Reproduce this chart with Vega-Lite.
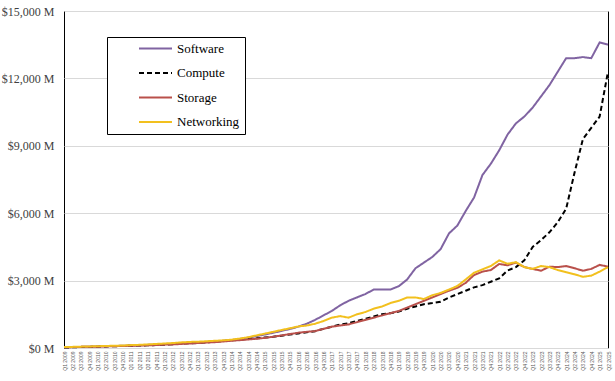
{
 "$schema": "https://vega.github.io/schema/vega-lite/v6.json",
 "width": 544, "height": 337,
 "autosize": "none",
 "padding": {"left": 64, "top": 11, "right": 7, "bottom": 33},
 "background": "white",
 "config": {
  "view": {"stroke": "#000000", "strokeWidth": 1},
  "font": "Liberation Serif",
  "legend": {"orient": "none", "legendX": 43, "legendY": 26, "strokeColor": "#000000", "fillColor": "white", "padding": 5, "symbolType": "M-3,0H3", "symbolSize": 121, "symbolStrokeWidth": 2, "labelFontSize": 13, "labelColor": "#000000", "labelFont": "Liberation Serif", "rowPadding": 10.5, "symbolOffset": 37, "labelOffset": 15}
 },
 "data": {"values": [
{"quarter":"Q1 2009","segment":"Software","value":30},{"quarter":"Q2 2009","segment":"Software","value":40},{"quarter":"Q3 2009","segment":"Software","value":50},{"quarter":"Q4 2009","segment":"Software","value":60},
{"quarter":"Q1 2010","segment":"Software","value":70},{"quarter":"Q2 2010","segment":"Software","value":80},{"quarter":"Q3 2010","segment":"Software","value":90},{"quarter":"Q4 2010","segment":"Software","value":100},
{"quarter":"Q1 2011","segment":"Software","value":110},{"quarter":"Q2 2011","segment":"Software","value":120},{"quarter":"Q3 2011","segment":"Software","value":140},{"quarter":"Q4 2011","segment":"Software","value":150},
{"quarter":"Q1 2012","segment":"Software","value":170},{"quarter":"Q2 2012","segment":"Software","value":190},{"quarter":"Q3 2012","segment":"Software","value":210},{"quarter":"Q4 2012","segment":"Software","value":230},
{"quarter":"Q1 2013","segment":"Software","value":250},{"quarter":"Q2 2013","segment":"Software","value":270},{"quarter":"Q3 2013","segment":"Software","value":290},{"quarter":"Q4 2013","segment":"Software","value":320},
{"quarter":"Q1 2014","segment":"Software","value":350},{"quarter":"Q2 2014","segment":"Software","value":400},{"quarter":"Q3 2014","segment":"Software","value":460},{"quarter":"Q4 2014","segment":"Software","value":530},
{"quarter":"Q1 2015","segment":"Software","value":600},{"quarter":"Q2 2015","segment":"Software","value":680},{"quarter":"Q3 2015","segment":"Software","value":760},{"quarter":"Q4 2015","segment":"Software","value":850},
{"quarter":"Q1 2016","segment":"Software","value":950},{"quarter":"Q2 2016","segment":"Software","value":1080},{"quarter":"Q3 2016","segment":"Software","value":1250},{"quarter":"Q4 2016","segment":"Software","value":1450},
{"quarter":"Q1 2017","segment":"Software","value":1650},{"quarter":"Q2 2017","segment":"Software","value":1900},{"quarter":"Q3 2017","segment":"Software","value":2100},{"quarter":"Q4 2017","segment":"Software","value":2250},
{"quarter":"Q1 2018","segment":"Software","value":2400},{"quarter":"Q2 2018","segment":"Software","value":2600},{"quarter":"Q3 2018","segment":"Software","value":2600},{"quarter":"Q4 2018","segment":"Software","value":2600},
{"quarter":"Q1 2019","segment":"Software","value":2750},{"quarter":"Q2 2019","segment":"Software","value":3050},{"quarter":"Q3 2019","segment":"Software","value":3550},{"quarter":"Q4 2019","segment":"Software","value":3800},
{"quarter":"Q1 2020","segment":"Software","value":4050},{"quarter":"Q2 2020","segment":"Software","value":4400},{"quarter":"Q3 2020","segment":"Software","value":5100},{"quarter":"Q4 2020","segment":"Software","value":5450},
{"quarter":"Q1 2021","segment":"Software","value":6100},{"quarter":"Q2 2021","segment":"Software","value":6700},{"quarter":"Q3 2021","segment":"Software","value":7700},{"quarter":"Q4 2021","segment":"Software","value":8200},
{"quarter":"Q1 2022","segment":"Software","value":8800},{"quarter":"Q2 2022","segment":"Software","value":9500},{"quarter":"Q3 2022","segment":"Software","value":10000},{"quarter":"Q4 2022","segment":"Software","value":10300},
{"quarter":"Q1 2023","segment":"Software","value":10700},{"quarter":"Q2 2023","segment":"Software","value":11200},{"quarter":"Q3 2023","segment":"Software","value":11700},{"quarter":"Q4 2023","segment":"Software","value":12300},
{"quarter":"Q1 2024","segment":"Software","value":12900},{"quarter":"Q2 2024","segment":"Software","value":12900},{"quarter":"Q3 2024","segment":"Software","value":12950},{"quarter":"Q4 2024","segment":"Software","value":12900},
{"quarter":"Q1 2025","segment":"Software","value":13600},{"quarter":"Q2 2025","segment":"Software","value":13500},

{"quarter":"Q1 2009","segment":"Compute","value":20},{"quarter":"Q2 2009","segment":"Compute","value":30},{"quarter":"Q3 2009","segment":"Compute","value":40},{"quarter":"Q4 2009","segment":"Compute","value":50},
{"quarter":"Q1 2010","segment":"Compute","value":60},{"quarter":"Q2 2010","segment":"Compute","value":70},{"quarter":"Q3 2010","segment":"Compute","value":80},{"quarter":"Q4 2010","segment":"Compute","value":90},
{"quarter":"Q1 2011","segment":"Compute","value":100},{"quarter":"Q2 2011","segment":"Compute","value":110},{"quarter":"Q3 2011","segment":"Compute","value":120},{"quarter":"Q4 2011","segment":"Compute","value":130},
{"quarter":"Q1 2012","segment":"Compute","value":150},{"quarter":"Q2 2012","segment":"Compute","value":170},{"quarter":"Q3 2012","segment":"Compute","value":190},{"quarter":"Q4 2012","segment":"Compute","value":210},
{"quarter":"Q1 2013","segment":"Compute","value":230},{"quarter":"Q2 2013","segment":"Compute","value":250},{"quarter":"Q3 2013","segment":"Compute","value":280},{"quarter":"Q4 2013","segment":"Compute","value":310},
{"quarter":"Q1 2014","segment":"Compute","value":340},{"quarter":"Q2 2014","segment":"Compute","value":370},{"quarter":"Q3 2014","segment":"Compute","value":400},{"quarter":"Q4 2014","segment":"Compute","value":430},
{"quarter":"Q1 2015","segment":"Compute","value":470},{"quarter":"Q2 2015","segment":"Compute","value":500},{"quarter":"Q3 2015","segment":"Compute","value":550},{"quarter":"Q4 2015","segment":"Compute","value":600},
{"quarter":"Q1 2016","segment":"Compute","value":650},{"quarter":"Q2 2016","segment":"Compute","value":700},{"quarter":"Q3 2016","segment":"Compute","value":750},{"quarter":"Q4 2016","segment":"Compute","value":850},
{"quarter":"Q1 2017","segment":"Compute","value":950},{"quarter":"Q2 2017","segment":"Compute","value":1050},{"quarter":"Q3 2017","segment":"Compute","value":1100},{"quarter":"Q4 2017","segment":"Compute","value":1200},
{"quarter":"Q1 2018","segment":"Compute","value":1300},{"quarter":"Q2 2018","segment":"Compute","value":1400},{"quarter":"Q3 2018","segment":"Compute","value":1500},{"quarter":"Q4 2018","segment":"Compute","value":1550},
{"quarter":"Q1 2019","segment":"Compute","value":1620},{"quarter":"Q2 2019","segment":"Compute","value":1750},{"quarter":"Q3 2019","segment":"Compute","value":1850},{"quarter":"Q4 2019","segment":"Compute","value":1950},
{"quarter":"Q1 2020","segment":"Compute","value":2000},{"quarter":"Q2 2020","segment":"Compute","value":2060},{"quarter":"Q3 2020","segment":"Compute","value":2250},{"quarter":"Q4 2020","segment":"Compute","value":2400},
{"quarter":"Q1 2021","segment":"Compute","value":2550},{"quarter":"Q2 2021","segment":"Compute","value":2700},{"quarter":"Q3 2021","segment":"Compute","value":2800},{"quarter":"Q4 2021","segment":"Compute","value":2950},
{"quarter":"Q1 2022","segment":"Compute","value":3100},{"quarter":"Q2 2022","segment":"Compute","value":3450},{"quarter":"Q3 2022","segment":"Compute","value":3600},{"quarter":"Q4 2022","segment":"Compute","value":3900},
{"quarter":"Q1 2023","segment":"Compute","value":4500},{"quarter":"Q2 2023","segment":"Compute","value":4800},{"quarter":"Q3 2023","segment":"Compute","value":5150},{"quarter":"Q4 2023","segment":"Compute","value":5600},
{"quarter":"Q1 2024","segment":"Compute","value":6200},{"quarter":"Q2 2024","segment":"Compute","value":7800},{"quarter":"Q3 2024","segment":"Compute","value":9300},{"quarter":"Q4 2024","segment":"Compute","value":9800},
{"quarter":"Q1 2025","segment":"Compute","value":10300},{"quarter":"Q2 2025","segment":"Compute","value":12300},

{"quarter":"Q1 2009","segment":"Storage","value":30},{"quarter":"Q2 2009","segment":"Storage","value":40},{"quarter":"Q3 2009","segment":"Storage","value":50},{"quarter":"Q4 2009","segment":"Storage","value":55},
{"quarter":"Q1 2010","segment":"Storage","value":60},{"quarter":"Q2 2010","segment":"Storage","value":70},{"quarter":"Q3 2010","segment":"Storage","value":80},{"quarter":"Q4 2010","segment":"Storage","value":90},
{"quarter":"Q1 2011","segment":"Storage","value":100},{"quarter":"Q2 2011","segment":"Storage","value":110},{"quarter":"Q3 2011","segment":"Storage","value":120},{"quarter":"Q4 2011","segment":"Storage","value":130},
{"quarter":"Q1 2012","segment":"Storage","value":150},{"quarter":"Q2 2012","segment":"Storage","value":160},{"quarter":"Q3 2012","segment":"Storage","value":180},{"quarter":"Q4 2012","segment":"Storage","value":200},
{"quarter":"Q1 2013","segment":"Storage","value":220},{"quarter":"Q2 2013","segment":"Storage","value":240},{"quarter":"Q3 2013","segment":"Storage","value":260},{"quarter":"Q4 2013","segment":"Storage","value":290},
{"quarter":"Q1 2014","segment":"Storage","value":320},{"quarter":"Q2 2014","segment":"Storage","value":350},{"quarter":"Q3 2014","segment":"Storage","value":380},{"quarter":"Q4 2014","segment":"Storage","value":410},
{"quarter":"Q1 2015","segment":"Storage","value":450},{"quarter":"Q2 2015","segment":"Storage","value":500},{"quarter":"Q3 2015","segment":"Storage","value":560},{"quarter":"Q4 2015","segment":"Storage","value":620},
{"quarter":"Q1 2016","segment":"Storage","value":680},{"quarter":"Q2 2016","segment":"Storage","value":720},{"quarter":"Q3 2016","segment":"Storage","value":750},{"quarter":"Q4 2016","segment":"Storage","value":850},
{"quarter":"Q1 2017","segment":"Storage","value":950},{"quarter":"Q2 2017","segment":"Storage","value":1000},{"quarter":"Q3 2017","segment":"Storage","value":1050},{"quarter":"Q4 2017","segment":"Storage","value":1150},
{"quarter":"Q1 2018","segment":"Storage","value":1250},{"quarter":"Q2 2018","segment":"Storage","value":1350},{"quarter":"Q3 2018","segment":"Storage","value":1450},{"quarter":"Q4 2018","segment":"Storage","value":1550},
{"quarter":"Q1 2019","segment":"Storage","value":1650},{"quarter":"Q2 2019","segment":"Storage","value":1800},{"quarter":"Q3 2019","segment":"Storage","value":1950},{"quarter":"Q4 2019","segment":"Storage","value":2100},
{"quarter":"Q1 2020","segment":"Storage","value":2250},{"quarter":"Q2 2020","segment":"Storage","value":2400},{"quarter":"Q3 2020","segment":"Storage","value":2550},{"quarter":"Q4 2020","segment":"Storage","value":2680},
{"quarter":"Q1 2021","segment":"Storage","value":2900},{"quarter":"Q2 2021","segment":"Storage","value":3250},{"quarter":"Q3 2021","segment":"Storage","value":3400},{"quarter":"Q4 2021","segment":"Storage","value":3470},
{"quarter":"Q1 2022","segment":"Storage","value":3740},{"quarter":"Q2 2022","segment":"Storage","value":3680},{"quarter":"Q3 2022","segment":"Storage","value":3800},{"quarter":"Q4 2022","segment":"Storage","value":3600},
{"quarter":"Q1 2023","segment":"Storage","value":3520},{"quarter":"Q2 2023","segment":"Storage","value":3440},{"quarter":"Q3 2023","segment":"Storage","value":3620},{"quarter":"Q4 2023","segment":"Storage","value":3600},
{"quarter":"Q1 2024","segment":"Storage","value":3650},{"quarter":"Q2 2024","segment":"Storage","value":3550},{"quarter":"Q3 2024","segment":"Storage","value":3440},{"quarter":"Q4 2024","segment":"Storage","value":3520},
{"quarter":"Q1 2025","segment":"Storage","value":3700},{"quarter":"Q2 2025","segment":"Storage","value":3620},

{"quarter":"Q1 2009","segment":"Networking","value":40},{"quarter":"Q2 2009","segment":"Networking","value":50},{"quarter":"Q3 2009","segment":"Networking","value":60},{"quarter":"Q4 2009","segment":"Networking","value":70},
{"quarter":"Q1 2010","segment":"Networking","value":80},{"quarter":"Q2 2010","segment":"Networking","value":90},{"quarter":"Q3 2010","segment":"Networking","value":100},{"quarter":"Q4 2010","segment":"Networking","value":110},
{"quarter":"Q1 2011","segment":"Networking","value":130},{"quarter":"Q2 2011","segment":"Networking","value":140},{"quarter":"Q3 2011","segment":"Networking","value":160},{"quarter":"Q4 2011","segment":"Networking","value":180},
{"quarter":"Q1 2012","segment":"Networking","value":200},{"quarter":"Q2 2012","segment":"Networking","value":220},{"quarter":"Q3 2012","segment":"Networking","value":250},{"quarter":"Q4 2012","segment":"Networking","value":270},
{"quarter":"Q1 2013","segment":"Networking","value":280},{"quarter":"Q2 2013","segment":"Networking","value":300},{"quarter":"Q3 2013","segment":"Networking","value":320},{"quarter":"Q4 2013","segment":"Networking","value":340},
{"quarter":"Q1 2014","segment":"Networking","value":370},{"quarter":"Q2 2014","segment":"Networking","value":420},{"quarter":"Q3 2014","segment":"Networking","value":480},{"quarter":"Q4 2014","segment":"Networking","value":560},
{"quarter":"Q1 2015","segment":"Networking","value":640},{"quarter":"Q2 2015","segment":"Networking","value":720},{"quarter":"Q3 2015","segment":"Networking","value":800},{"quarter":"Q4 2015","segment":"Networking","value":880},
{"quarter":"Q1 2016","segment":"Networking","value":960},{"quarter":"Q2 2016","segment":"Networking","value":1000},{"quarter":"Q3 2016","segment":"Networking","value":1080},{"quarter":"Q4 2016","segment":"Networking","value":1200},
{"quarter":"Q1 2017","segment":"Networking","value":1350},{"quarter":"Q2 2017","segment":"Networking","value":1420},{"quarter":"Q3 2017","segment":"Networking","value":1350},{"quarter":"Q4 2017","segment":"Networking","value":1500},
{"quarter":"Q1 2018","segment":"Networking","value":1600},{"quarter":"Q2 2018","segment":"Networking","value":1750},{"quarter":"Q3 2018","segment":"Networking","value":1850},{"quarter":"Q4 2018","segment":"Networking","value":2000},
{"quarter":"Q1 2019","segment":"Networking","value":2100},{"quarter":"Q2 2019","segment":"Networking","value":2250},{"quarter":"Q3 2019","segment":"Networking","value":2250},{"quarter":"Q4 2019","segment":"Networking","value":2180},
{"quarter":"Q1 2020","segment":"Networking","value":2350},{"quarter":"Q2 2020","segment":"Networking","value":2450},{"quarter":"Q3 2020","segment":"Networking","value":2600},{"quarter":"Q4 2020","segment":"Networking","value":2760},
{"quarter":"Q1 2021","segment":"Networking","value":3050},{"quarter":"Q2 2021","segment":"Networking","value":3350},{"quarter":"Q3 2021","segment":"Networking","value":3500},{"quarter":"Q4 2021","segment":"Networking","value":3650},
{"quarter":"Q1 2022","segment":"Networking","value":3900},{"quarter":"Q2 2022","segment":"Networking","value":3750},{"quarter":"Q3 2022","segment":"Networking","value":3820},{"quarter":"Q4 2022","segment":"Networking","value":3600},
{"quarter":"Q1 2023","segment":"Networking","value":3520},{"quarter":"Q2 2023","segment":"Networking","value":3650},{"quarter":"Q3 2023","segment":"Networking","value":3600},{"quarter":"Q4 2023","segment":"Networking","value":3470},
{"quarter":"Q1 2024","segment":"Networking","value":3370},{"quarter":"Q2 2024","segment":"Networking","value":3280},{"quarter":"Q3 2024","segment":"Networking","value":3170},{"quarter":"Q4 2024","segment":"Networking","value":3220},
{"quarter":"Q1 2025","segment":"Networking","value":3400},{"quarter":"Q2 2025","segment":"Networking","value":3600}
 ]},
 "mark": {"type": "line", "strokeWidth": 2},
 "encoding": {
  "x": {"field": "quarter", "type": "ordinal", "sort": null, "scale": {"type": "point", "padding": 0},
   "axis": {"title": null, "labelAngle": -90, "labelFontSize": 5, "labelColor": "#595959", "labelFont": "Liberation Sans", "ticks": false, "domainColor": "#d9d9d9", "labelPadding": 3, "labelOverlap": false, "grid": false}},
  "y": {"field": "value", "type": "quantitative", "scale": {"domain": [0, 15000]},
   "axis": {"title": null, "values": [0, 3000, 6000, 9000, 12000, 15000], "labelExpr": "'$' + format(datum.value, ',') + ' M'", "labelFontSize": 12, "labelColor": "#404040", "labelFont": "Liberation Serif", "ticks": false, "domain": false, "gridColor": "#d9d9d9", "labelPadding": 10}},
  "color": {"field": "segment", "type": "nominal", "sort": null,
   "scale": {"domain": ["Software", "Compute", "Storage", "Networking"], "range": ["#8064a2", "#000000", "#b9504b", "#f2c01e"]},
   "legend": {"title": null, "labelExpr": "datum.label + '\u00a0\u00a0\u00a0'"}},
  "strokeDash": {"field": "segment", "type": "nominal", "sort": null,
   "scale": {"domain": ["Software", "Compute", "Storage", "Networking"], "range": [[1, 0], [5, 3], [1, 0], [1, 0]]},
   "legend": {"title": null, "labelExpr": "datum.label + '\u00a0\u00a0\u00a0'"}}
 }
}
